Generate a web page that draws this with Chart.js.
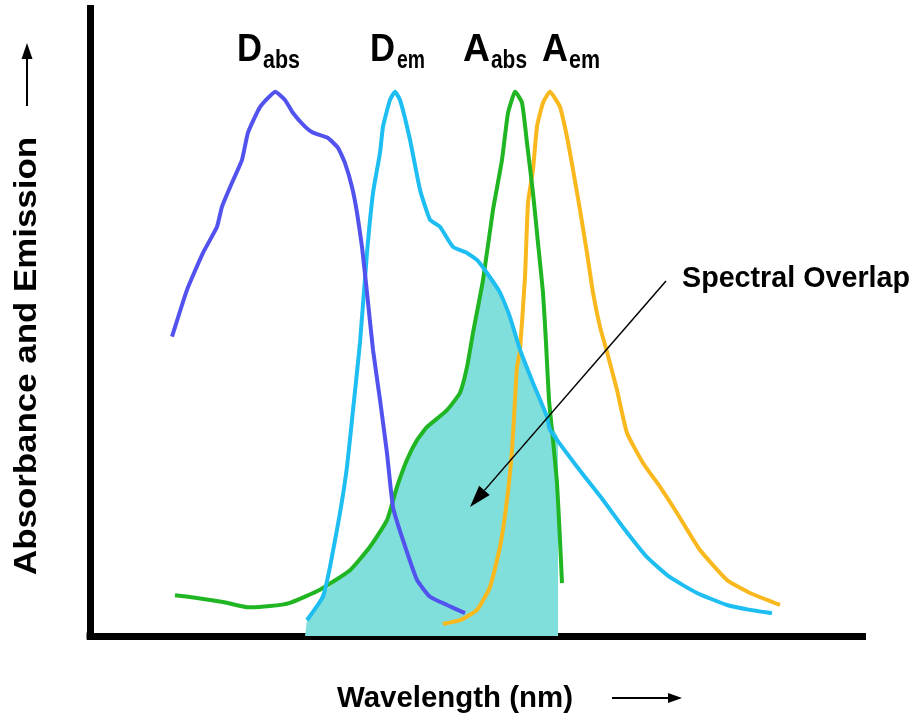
<!DOCTYPE html>
<html>
<head>
<meta charset="utf-8">
<title>Spectral Overlap</title>
<script src="https://cdn.jsdelivr.net/npm/chart.js@4.4.1/dist/chart.umd.min.js"></script>
<style>
    html, body { margin: 0; padding: 0; background: #ffffff; }
    #chart { display: block; }
</style>
</head>
<body>
<canvas id="chart" width="918" height="721"></canvas>
<script>
// Donor absorbance (D abs)
const dAbsX = [391, 398.5, 406.5, 413.5, 416, 421, 426, 429, 435, 442.5, 447.5, 451.5, 457.5, 461.5, 469, 474, 477.5, 481, 483.5, 486, 488.5, 491.5, 495, 498.5, 501.5, 506.5, 513.5, 520, 528.5, 537.5];
const dAbsY = [55.0, 63.6, 70.4, 75.2, 78.9, 83.3, 87.5, 92.5, 97.2, 100, 98.5, 96.1, 93.6, 92.5, 91.5, 89.7, 86.9, 82.5, 77.8, 71.5, 63.1, 52.6, 43.4, 33.6, 23.7, 17.6, 10.3, 7.2, 5.7, 4.2];

// Donor emission (D em)
const dEmX = [458.5, 466.5, 470, 475, 478.5, 481.5, 485, 488.5, 491.5, 495, 496.5, 500, 502.5, 505, 510, 515, 520, 525, 531.5, 538.5, 543.5, 548.5, 555, 560, 565, 571.5, 578.5, 580, 593.5, 606.5, 616.5, 628.5, 640, 653.5, 668.5, 680, 691];
const dEmY = [2.9, 7.2, 12.7, 22.6, 31.1, 41.5, 53.9, 70.4, 81.4, 88.8, 93.6, 98.5, 100, 98.5, 91.2, 82.0, 76.5, 75.2, 71.5, 70.4, 69.1, 66.7, 63.1, 58.6, 52.6, 46.5, 40.3, 37.9, 31.1, 25.0, 20.0, 14.5, 10.8, 7.9, 5.7, 4.8, 4.2];

// Acceptor absorbance (A abs)
const aAbsX = [392.5, 403.5, 416.5, 428.5, 440, 450, 465, 480, 490, 498.5, 503.5, 508.5, 513.5, 518.5, 528.5, 535, 538.5, 541.5, 546.5, 551.5, 556, 559, 562.5, 566, 568.5, 571.5, 574, 576.5, 578, 579.5, 581.5, 583.5, 585, 586];
const aAbsY = [7.5, 7.0, 6.25, 5.3, 5.5, 6.1, 8.5, 12.1, 16.4, 21.3, 27.4, 32.4, 36.0, 38.4, 41.5, 44.7, 49.4, 55.7, 65.4, 78.3, 87.5, 96.1, 100, 98.0, 90.6, 81.4, 72.2, 63.1, 53.9, 43.4, 36.0, 28.1, 17.6, 9.7];

// Acceptor emission (A em)
const aEmX = [526.5, 535, 543.5, 550, 555, 558.5, 561, 562.5, 563.5, 565, 567.5, 569, 571.5, 573.5, 576.5, 580, 585, 588.5, 591.5, 595, 598.5, 601.5, 605, 608.5, 613.5, 618.5, 626.5, 635, 643.5, 655, 668.5, 680, 695];
const aEmY = [2.2, 2.9, 4.8, 9.0, 16.4, 25.0, 34.2, 43.4, 49.4, 52.6, 66.0, 79.6, 85.7, 93.6, 98.0, 100, 97.2, 91.7, 85.7, 78.3, 70.4, 63.1, 56.8, 52.2, 45.2, 37.3, 31.8, 27.4, 22.6, 15.8, 10.3, 7.9, 5.7];

// Shaded spectral overlap (under D em and A abs)
const overlapX = [457.5, 458.5, 462.5, 466, 480, 490, 498.5, 503.5, 508.5, 513.5, 518.5, 528.5, 535, 538.5, 541.5, 546, 548.5, 555, 560, 565, 571.5, 578.5, 584, 584];
const overlapY = [0, 2.9, 5.1, 7.9, 12.1, 16.4, 21.3, 27.4, 32.4, 36.0, 38.4, 41.5, 44.7, 49.4, 55.7, 65.8, 66.7, 63.1, 58.6, 52.6, 46.5, 40.3, 36.6, 0];

// Axis ranges (no tick labels are shown)
const xRange = [350, 737.5];
const yRange = [0, 115.4];

// Texts
const seriesMain = ['D', 'D', 'A', 'A'];
const seriesSub = ['abs', 'em', 'abs', 'em'];
const xTitle = 'Wavelength (nm)';
const yTitle = 'Absorbance and Emission';
const overlapTitle = 'Spectral Overlap';

const COLORS = {
    dAbs: '#5252ee',
    dEm: '#1ebef2',
    aAbs: '#20b522',
    aEm: '#f8b81e',
    overlap: '#80dedb'
};

const FONT = '"Liberation Sans", Arial, sans-serif';

function toPoints(xs, ys) {
    return xs.map((x, i) => ({ x: x, y: ys[i] }));
}

function lineSet(label, xs, ys, color) {
    return {
        label: label,
        data: toPoints(xs, ys),
        borderColor: color,
        borderWidth: 4,
        pointRadius: 0,
        tension: 0.15,
        fill: false,
        order: 0
    };
}

// Draw text squeezed or stretched to a given width
function fitText(ctx, text, x, y, size, width) {
    ctx.save();
    ctx.font = 'bold ' + size + 'px ' + FONT;
    const w = ctx.measureText(text).width;
    ctx.translate(x, y);
    ctx.scale(width / w, 1);
    ctx.fillText(text, 0, 0);
    ctx.restore();
}

function drawArrow(ctx, x1, y1, x2, y2, lineWidth, headLen, headWidth) {
    const ang = Math.atan2(y2 - y1, x2 - x1);
    const bx = x2 - headLen * Math.cos(ang);
    const by = y2 - headLen * Math.sin(ang);
    ctx.save();
    ctx.strokeStyle = '#000';
    ctx.fillStyle = '#000';
    ctx.lineWidth = lineWidth;
    ctx.beginPath();
    ctx.moveTo(x1, y1);
    ctx.lineTo(bx, by);
    ctx.stroke();
    ctx.beginPath();
    ctx.moveTo(x2, y2);
    ctx.lineTo(bx + headWidth / 2 * Math.sin(ang), by - headWidth / 2 * Math.cos(ang));
    ctx.lineTo(bx - headWidth / 2 * Math.sin(ang), by + headWidth / 2 * Math.cos(ang));
    ctx.closePath();
    ctx.fill();
    ctx.restore();
}

// Labels, titles and arrows
const annotations = {
    id: 'annotations',
    afterDraw(chart) {
        const ctx = chart.ctx;
        ctx.save();
        ctx.fillStyle = '#000';
        ctx.textBaseline = 'alphabetic';

        // corner of the two axes
        const area = chart.chartArea;
        ctx.fillRect(area.left - 3.5, area.bottom - 3.5, 7, 7);

        // series labels above the peaks
        const mainPos = [[237, 25], [370, 25], [463, 27], [542, 26]];
        const subPos = [[263, 37], [397, 28], [491, 36], [569, 31]];
        seriesMain.forEach((t, i) => {
            fitText(ctx, t, mainPos[i][0], 61, 38, mainPos[i][1]);
            fitText(ctx, seriesSub[i], subPos[i][0], 68, 26, subPos[i][1]);
        });

        // overlap label and pointer
        fitText(ctx, overlapTitle, 682, 287, 30, 228);
        drawArrow(ctx, 666, 281, 470, 507, 1.5, 22, 14);

        // x axis title and arrow
        fitText(ctx, xTitle, 337, 707, 29, 236);
        drawArrow(ctx, 612, 698, 682, 698, 2, 14, 10);

        // y axis title and arrow
        ctx.save();
        ctx.translate(36, 575);
        ctx.rotate(-Math.PI / 2);
        fitText(ctx, yTitle, 0, 0, 31, 438);
        ctx.restore();
        drawArrow(ctx, 27, 106, 27, 43, 2, 16, 11);

        ctx.restore();
    }
};

document.addEventListener('DOMContentLoaded', function() {
    const ctx = document.getElementById('chart');

    new Chart(ctx, {
        type: 'line',
        data: {
            datasets: [
                {
                    label: overlapTitle,
                    data: toPoints(overlapX, overlapY),
                    borderWidth: 0,
                    borderColor: 'rgba(0,0,0,0)',
                    backgroundColor: COLORS.overlap,
                    pointRadius: 0,
                    tension: 0,
                    fill: 'origin',
                    order: 1
                },
                lineSet('D abs', dAbsX, dAbsY, COLORS.dAbs),
                lineSet('D em', dEmX, dEmY, COLORS.dEm),
                lineSet('A abs', aAbsX, aAbsY, COLORS.aAbs),
                lineSet('A em', aEmX, aEmY, COLORS.aEm)
            ]
        },
        options: {
            responsive: false,
            animation: false,
            layout: {
                padding: { left: 90, top: 8, right: 53, bottom: 85 }
            },
            plugins: {
                legend: { display: false },
                tooltip: { enabled: false }
            },
            scales: {
                x: {
                    type: 'linear',
                    min: xRange[0],
                    max: xRange[1],
                    grid: { display: false, drawTicks: false },
                    ticks: { display: false },
                    border: { display: true, color: '#000', width: 7 }
                },
                y: {
                    min: yRange[0],
                    max: yRange[1],
                    grid: { display: false, drawTicks: false },
                    ticks: { display: false },
                    border: { display: true, color: '#000', width: 7 }
                }
            }
        },
        plugins: [annotations]
    });
});
</script>
</body>
</html>
